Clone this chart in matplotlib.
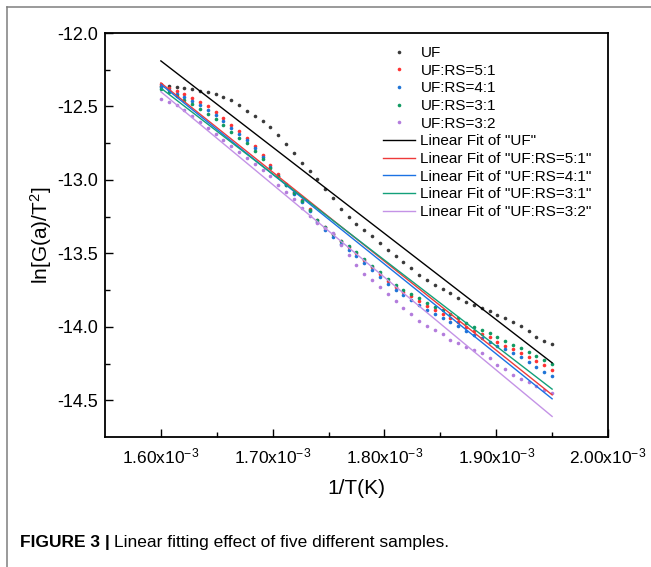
import matplotlib
matplotlib.use("Agg")
import matplotlib.pyplot as plt
from matplotlib.lines import Line2D

plt.rcParams["font.family"] = ["Liberation Sans", "DejaVu Sans"]
plt.rcParams["mathtext.fontset"] = "custom"
plt.rcParams["mathtext.rm"] = "Liberation Sans"
plt.rcParams["mathtext.it"] = "Liberation Sans:italic"
plt.rcParams["mathtext.bf"] = "Liberation Sans:bold"
plt.rcParams["axes.unicode_minus"] = False

# 1/T in units of 1e-3 K^-1
inv_t = [1.600, 1.607, 1.614, 1.621, 1.628, 1.635, 1.642, 1.649, 1.656, 1.663,
         1.670, 1.677, 1.684, 1.691, 1.698, 1.705, 1.712, 1.719, 1.726, 1.733,
         1.740, 1.747, 1.754, 1.761, 1.768, 1.775, 1.782, 1.789, 1.796, 1.803,
         1.810, 1.817, 1.824, 1.831, 1.838, 1.845, 1.852, 1.859, 1.866, 1.873,
         1.880, 1.887, 1.894, 1.901, 1.908, 1.915, 1.922, 1.929, 1.936, 1.943,
         1.950]

uf = [-12.360, -12.363, -12.368, -12.373, -12.382, -12.393, -12.405, -12.418, -12.436, -12.456,
      -12.490, -12.530, -12.562, -12.597, -12.640, -12.695, -12.755, -12.820, -12.882, -12.937,
      -12.995, -13.060, -13.125, -13.195, -13.250, -13.297, -13.340, -13.383, -13.428, -13.476,
      -13.516, -13.558, -13.602, -13.646, -13.682, -13.714, -13.744, -13.773, -13.803, -13.828,
      -13.850, -13.873, -13.895, -13.918, -13.942, -13.966, -13.993, -14.027, -14.066, -14.095,
      -14.120]

rs_5_1 = [-12.350, -12.372, -12.395, -12.417, -12.441, -12.468, -12.499, -12.535, -12.578, -12.626,
          -12.668, -12.712, -12.770, -12.832, -12.900, -12.962, -13.025, -13.082, -13.136, -13.200,
          -13.270, -13.320, -13.368, -13.415, -13.455, -13.495, -13.545, -13.593, -13.640, -13.688,
          -13.730, -13.762, -13.792, -13.826, -13.858, -13.885, -13.910, -13.938, -13.968, -14.000,
          -14.026, -14.048, -14.072, -14.100, -14.130, -14.154, -14.178, -14.204, -14.230, -14.262,
          -14.292]

rs_4_1 = [-12.365, -12.388, -12.412, -12.436, -12.462, -12.490, -12.522, -12.558, -12.600, -12.645,
          -12.688, -12.730, -12.784, -12.845, -12.910, -12.972, -13.035, -13.094, -13.150, -13.215,
          -13.285, -13.338, -13.387, -13.434, -13.476, -13.516, -13.566, -13.614, -13.662, -13.710,
          -13.752, -13.786, -13.818, -13.852, -13.884, -13.912, -13.938, -13.966, -13.997, -14.030,
          -14.055, -14.078, -14.100, -14.128, -14.150, -14.178, -14.205, -14.238, -14.272, -14.305,
          -14.335]

rs_3_1 = [-12.380, -12.405, -12.432, -12.458, -12.486, -12.515, -12.548, -12.585, -12.628, -12.672,
          -12.712, -12.752, -12.802, -12.858, -12.918, -12.975, -13.034, -13.090, -13.142, -13.204,
          -13.272, -13.322, -13.368, -13.413, -13.452, -13.490, -13.538, -13.585, -13.630, -13.676,
          -13.716, -13.746, -13.775, -13.807, -13.838, -13.864, -13.888, -13.914, -13.942, -13.972,
          -13.998, -14.020, -14.044, -14.070, -14.098, -14.122, -14.146, -14.170, -14.196, -14.225,
          -14.255]

rs_3_2 = [-12.450, -12.472, -12.490, -12.525, -12.565, -12.605, -12.645, -12.685, -12.727, -12.768,
          -12.810, -12.852, -12.892, -12.932, -12.975, -13.035, -13.080, -13.130, -13.190, -13.248,
          -13.292, -13.325, -13.360, -13.440, -13.510, -13.580, -13.640, -13.684, -13.726, -13.776,
          -13.824, -13.870, -13.915, -13.958, -13.995, -14.020, -14.050, -14.088, -14.110, -14.138,
          -14.158, -14.178, -14.210, -14.262, -14.290, -14.327, -14.356, -14.375, -14.402, -14.428,
          -14.450]

# linear fit end points
fit_x = [1.600, 1.950]
fit_uf = [-12.190, -14.245]
fit_5_1 = [-12.340, -14.463]
fit_4_1 = [-12.350, -14.490]
fit_3_1 = [-12.375, -14.424]
fit_3_2 = [-12.400, -14.610]

labels = ["UF", "UF:RS=5:1", "UF:RS=4:1", "UF:RS=3:1", "UF:RS=3:2"]
dot_colors = ["#3a3a3a", "#ff3232", "#1f74d6", "#119a62", "#b37cdc"]
line_colors = ["#000000", "#ee3a3a", "#1b72e4", "#13a07a", "#c493e6"]
x_ticks = [1.60, 1.70, 1.80, 1.90, 2.00]
y_ticks = [-12.0, -12.5, -13.0, -13.5, -14.0, -14.5]

x = [v * 1e-3 for v in inv_t]
fx = [v * 1e-3 for v in fit_x]

fig = plt.figure(figsize=(6.51, 5.67), dpi=100)
ax = fig.add_axes([105 / 651, 1 - 437 / 567, (608 - 105) / 651, (437 - 33) / 567])

for ys, c, lab in zip([uf, rs_5_1, rs_4_1, rs_3_1, rs_3_2], dot_colors, labels):
    ax.plot(x, ys, ls="none", marker="o", ms=2.6, mew=0, color=c, label=lab)

for ys, c, lab in zip([fit_uf, fit_5_1, fit_4_1, fit_3_1, fit_3_2], line_colors, labels):
    ax.plot(fx, ys, lw=1.0, color=c, label=f'Linear Fit of "{lab}"')

ax.set_xlim(1.55e-3, 2.00e-3)
ax.set_ylim(-14.75, -12.0)
ax.set_xticks([v * 1e-3 for v in x_ticks])
ax.set_xticklabels([f"{v:.2f}x10$^{{-3}}$" for v in x_ticks])
ax.set_xticks([v * 1e-3 for v in [1.65, 1.75, 1.85, 1.95]], minor=True)
ax.set_yticks(y_ticks)
ax.set_yticklabels([f"{v:.1f}" for v in y_ticks])
ax.set_yticks([-12.25, -12.75, -13.25, -13.75, -14.25], minor=True)

ax.tick_params(which="both", direction="in", top=False, right=False, width=1.0)
ax.tick_params(which="major", length=6)
ax.tick_params(which="minor", length=3.5)
ax.tick_params(axis="y", labelsize=13, pad=5)
ax.tick_params(axis="x", labelsize=12.5, pad=7)
for sp in ax.spines.values():
    sp.set_linewidth(1.3)

ax.set_xlabel("1/T(K)", fontsize=15, labelpad=9)
ax.set_ylabel("ln[G(a)/T$^2$]", fontsize=15, labelpad=2)

ax.legend(loc="upper left", bbox_to_anchor=(383 / 651, 1 - 46 / 567),
          bbox_transform=fig.transFigure, frameon=False, fontsize=11,
          borderpad=0, borderaxespad=0, labelspacing=0.24,
          handlelength=2.1, handletextpad=0.35, numpoints=1)

# outer frame of the figure panel
fig.add_artist(Line2D([7 / 651, 7 / 651], [0, 1 - 7 / 567], color="#7f7f7f", lw=1.1))
fig.add_artist(Line2D([7 / 651, 1], [1 - 7 / 567, 1 - 7 / 567], color="#7f7f7f", lw=1.1))

cap_y = 1 - 542 / 567
head = fig.text(20 / 651, cap_y, "FIGURE 3 |", fontsize=12.5, fontweight="bold",
                va="center", ha="left")
renderer = fig.canvas.get_renderer()
bb = head.get_window_extent(renderer)
fig.text((bb.x1 + 4) / 651, cap_y, "Linear fitting effect of five different samples.",
         fontsize=12.5, va="center", ha="left")

fig.savefig("out.png", dpi=100)
plt.close(fig)
